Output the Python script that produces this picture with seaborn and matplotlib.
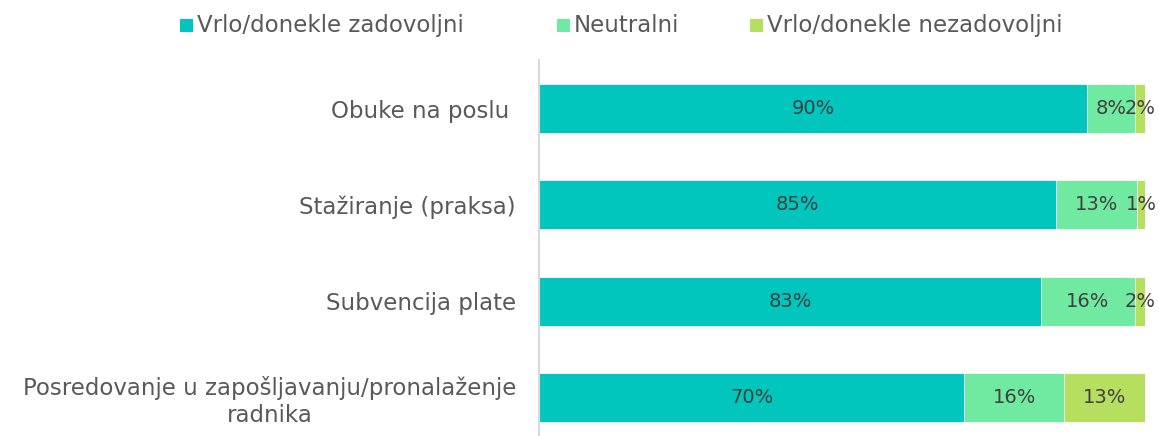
import matplotlib
matplotlib.use("Agg")
import matplotlib.pyplot as plt
import seaborn as sns
import pandas as pd
from matplotlib.patches import Rectangle

categories = [
    "Obuke na poslu ",
    "Stažiranje (praksa)",
    "Subvencija plate",
    "Posredovanje u zapošljavanju/pronalaženje\nradnika",
]
series_names = ["Vrlo/donekle zadovoljni", "Neutralni", "Vrlo/donekle nezadovoljni"]
satisfied = [90.4, 85.3, 82.8, 70.2]
neutral = [7.9, 13.4, 15.6, 16.4]
dissatisfied = [1.7, 1.3, 1.6, 13.4]
colors = ["#00C6BD", "#70E9A1", "#B6DF5F"]

sns.set_theme(style="white")
plt.rcParams["font.family"] = ["DejaVu Sans"]
FS = 16.5
W, H = 1159, 436

df = pd.DataFrame({
    "category": categories,
    "s1": satisfied,
    "s2": neutral,
    "s3": dissatisfied,
})
df["c1"] = df["s1"]
df["c2"] = df["s1"] + df["s2"]
df["c3"] = df["c2"] + df["s3"]

fig = plt.figure(figsize=(W / 100, H / 100), dpi=100)
ax = fig.add_axes([539 / W, 0.0, (1145 - 539) / W, 1 - 60.5 / H])

# stacked bars: draw cumulative totals back to front
for col, color in zip(["c3", "c2", "c1"], colors[::-1]):
    sns.barplot(data=df, x=col, y="category", orient="h", color=color,
                width=0.51, edgecolor="white", linewidth=0.6, ax=ax,
                saturation=1)

text_color = "#404040"
for i in range(len(categories)):
    left = 0
    for vals in (satisfied, neutral, dissatisfied):
        v = vals[i]
        ax.text(left + v / 2, i, f"{v:.0f}%", ha="center", va="center",
                fontsize=14, color=text_color)
        left += v

ax.set_xlim(0, 100)
ax.set_ylim(3.4, -0.5)
ax.set_xlabel("")
ax.set_ylabel("")
ax.set_xticks([])
ax.tick_params(axis="y", length=0, pad=16.5, labelsize=FS, labelcolor="#595959")
for lbl in ax.get_yticklabels():
    lbl.set_multialignment("center")
for s in ["top", "right", "bottom"]:
    ax.spines[s].set_visible(False)
ax.spines["left"].set_color("#D9D9D9")
ax.spines["left"].set_linewidth(1.5)

# legend row: square markers with baseline-aligned labels
legend_x = [180, 557, 750]
sq = 13
for x0, name, color in zip(legend_x, series_names, colors):
    fig.patches.append(Rectangle((x0 / W, 1 - 32 / H), sq / W, sq / H,
                                 transform=fig.transFigure, facecolor=color,
                                 edgecolor="none"))
    fig.text((x0 + sq + 4) / W, 1 - 32 / H, name, fontsize=FS, color="#595959",
             ha="left", va="baseline")

fig.savefig("out.png", dpi=100)
